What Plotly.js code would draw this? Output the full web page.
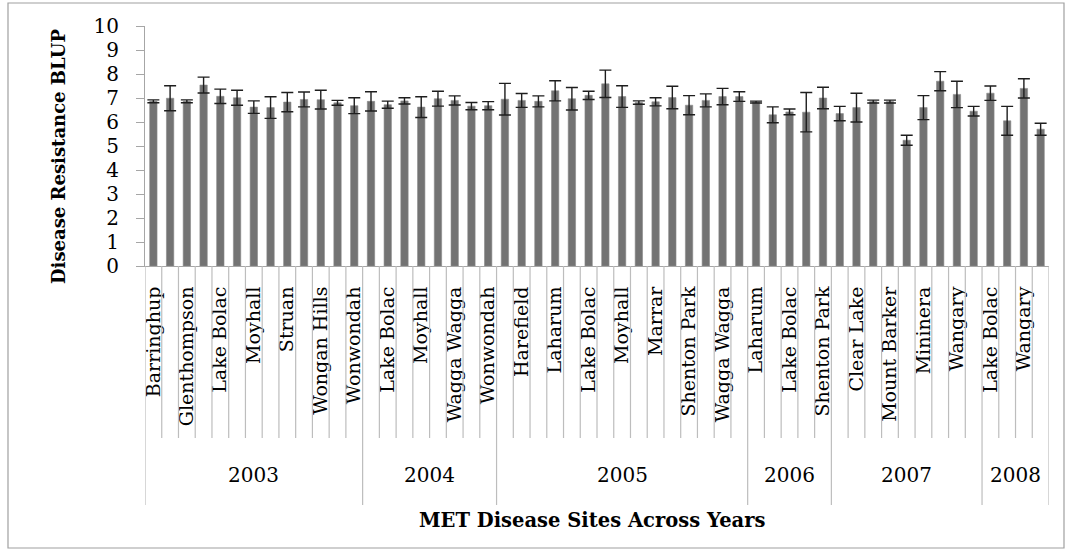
<!DOCTYPE html>
<html>
<head>
<meta charset="utf-8">
<script src="https://cdn.plot.ly/plotly-3.0.1.min.js"></script>
<style>
  html, body { margin: 0; padding: 0; background: #fff; }
  #chart { width: 1073px; height: 551px; }
</style>
</head>
<body>
<div id="chart"></div>
<script>
// Trial years and the number of sites trialled in each
const years = ['2003', '2004', '2005', '2006', '2007', '2008'];
const sitesPerYear = [13, 8, 15, 5, 9, 4];

// Site names printed on the axis (every second site carries a label)
const siteLabels = [
  'Barringhup', 'Glenthompson', 'Lake Bolac', 'Moyhall', 'Struan', 'Wongan Hills', 'Wonwondah',
  'Lake Bolac', 'Moyhall', 'Wagga Wagga', 'Wonwondah',
  'Harefield', 'Laharum', 'Lake Bolac', 'Moyhall', 'Marrar', 'Shenton Park', 'Wagga Wagga',
  'Laharum', 'Lake Bolac', 'Shenton Park',
  'Clear Lake', 'Mount Barker', 'Mininera', 'Wangary',
  'Lake Bolac', 'Wangary'
];

// Disease resistance BLUP per site and its standard error
const blup = [
  6.86, 6.99, 6.86, 7.54, 7.07, 7.01, 6.62, 6.60, 6.83, 6.94, 6.93, 6.80, 6.68,
  6.86, 6.72, 6.88, 6.62, 6.97, 6.90, 6.66, 6.68,
  6.95, 6.90, 6.86, 7.30, 6.97, 7.11, 7.59, 7.06, 6.81, 6.84, 7.02, 6.70, 6.90, 7.06, 7.06,
  6.83, 6.30, 6.42, 6.41, 7.00,
  6.35, 6.60, 6.85, 6.85, 5.24, 6.60, 7.70, 7.15, 6.45,
  7.20, 6.05, 7.40, 5.70
];
const blupErr = [
  0.06, 0.52, 0.06, 0.33, 0.30, 0.31, 0.26, 0.45, 0.40, 0.31, 0.39, 0.10, 0.33,
  0.40, 0.15, 0.13, 0.43, 0.31, 0.19, 0.15, 0.17,
  0.66, 0.29, 0.23, 0.42, 0.47, 0.17, 0.57, 0.45, 0.07, 0.17, 0.47, 0.40, 0.27, 0.34, 0.20,
  0.04, 0.33, 0.12, 0.82, 0.45,
  0.30, 0.60, 0.06, 0.06, 0.21, 0.50, 0.40, 0.55, 0.20,
  0.30, 0.60, 0.40, 0.25
];

const FONT = 'DejaVu Serif, Liberation Serif, serif';
const AXIS_GREY = '#a6a6a6';
const DIVIDER_GREY = '#bdbdbd';

// Plot-area geometry (pixels) used to place the category table below the axis
const PLOT_TOP = 26, PLOT_BOTTOM = 266, PLOT_LEFT = 145, PLOT_RIGHT = 1049;
const plotH = PLOT_BOTTOM - PLOT_TOP;
const plotW = PLOT_RIGHT - PLOT_LEFT;
const py = px => (PLOT_BOTTOM - px) / plotH;      // pixel row -> paper y
const pxX = px => (px - PLOT_LEFT) / plotW;        // pixel column -> paper x

const xIdx = blup.map((_, i) => i + 1);
const tickVals = siteLabels.map((_, j) => 2 * j + 1);

const trace = {
  type: 'bar',
  x: xIdx,
  y: blup,
  marker: { color: '#737373', line: { color: '#8a8a8a', width: 0.6 } },
  error_y: {
    type: 'data',
    array: blupErr,
    visible: true,
    color: '#1e1e1e',
    thickness: 1.4,
    width: 6
  },
  hoverinfo: 'x+y'
};

// Category dividers: a short line between every site, a long one at each year boundary
const shapes = [];
const yearEdges = [0];
sitesPerYear.forEach(n => yearEdges.push(yearEdges[yearEdges.length - 1] + n));
const nSites = blup.length;
for (let k = 0; k <= nSites; k++) {
  const isYearEdge = yearEdges.includes(k);
  shapes.push({
    type: 'line', xref: 'x', yref: 'paper',
    x0: k + 0.5, x1: k + 0.5,
    y0: 0, y1: isYearEdge ? py(505) : py(438),
    line: { color: DIVIDER_GREY, width: 1.2 }
  });
}
// Outer frame of the chart
shapes.push({
  type: 'rect', xref: 'paper', yref: 'paper',
  x0: pxX(8), x1: pxX(1064), y0: py(3), y1: py(548),
  line: { color: '#a0a0a0', width: 1.2 }, fillcolor: 'rgba(0,0,0,0)'
});

// Year labels centred under their groups
const annotations = years.map((yr, g) => ({
  text: yr, xref: 'x', yref: 'paper',
  x: (yearEdges[g] + yearEdges[g + 1]) / 2 + 0.5,
  y: py(475), xanchor: 'center', yanchor: 'middle',
  showarrow: false, font: { family: FONT, size: 20, color: '#000' }
}));
annotations.push({
  text: '<b>MET Disease Sites Across Years</b>', xref: 'paper', yref: 'paper',
  x: pxX(592), y: py(520), xanchor: 'center', yanchor: 'middle', showarrow: false,
  font: { family: FONT, size: 19.5, color: '#000' }
});
annotations.push({
  text: '<b>Disease Resistance BLUP</b>', xref: 'paper', yref: 'paper',
  x: pxX(58), y: py(157), xanchor: 'center', yanchor: 'middle', showarrow: false,
  textangle: -90, font: { family: FONT, size: 18, color: '#000' }
});

const layout = {
  width: 1073, height: 551,
  margin: { l: PLOT_LEFT, r: 1073 - PLOT_RIGHT, t: PLOT_TOP, b: 551 - PLOT_BOTTOM },
  paper_bgcolor: '#fff', plot_bgcolor: '#fff',
  showlegend: false,
  bargap: 0.56,
  xaxis: {
    range: [0.5, nSites + 0.5],
    tickmode: 'array', tickvals: tickVals, ticktext: siteLabels,
    tickangle: -90, ticks: '',
    showline: true, linecolor: AXIS_GREY, linewidth: 1,
    showgrid: false, zeroline: false,
    ticklabelstandoff: 12,
    tickfont: { family: FONT, size: 19, color: '#000' },
    automargin: false
  },
  yaxis: {
    range: [0, 10], tick0: 0, dtick: 1,
    ticks: 'outside', ticklen: 8, tickcolor: AXIS_GREY, tickwidth: 1,
    showline: true, linecolor: AXIS_GREY, linewidth: 1,
    showgrid: false, zeroline: false,
    ticklabelstandoff: 13,
    tickfont: { family: FONT, size: 20, color: '#000' },
    automargin: false
  },
  shapes: shapes,
  annotations: annotations
};

Plotly.newPlot('chart', [trace], layout, { displayModeBar: false, staticPlot: true });
</script>
</body>
</html>
